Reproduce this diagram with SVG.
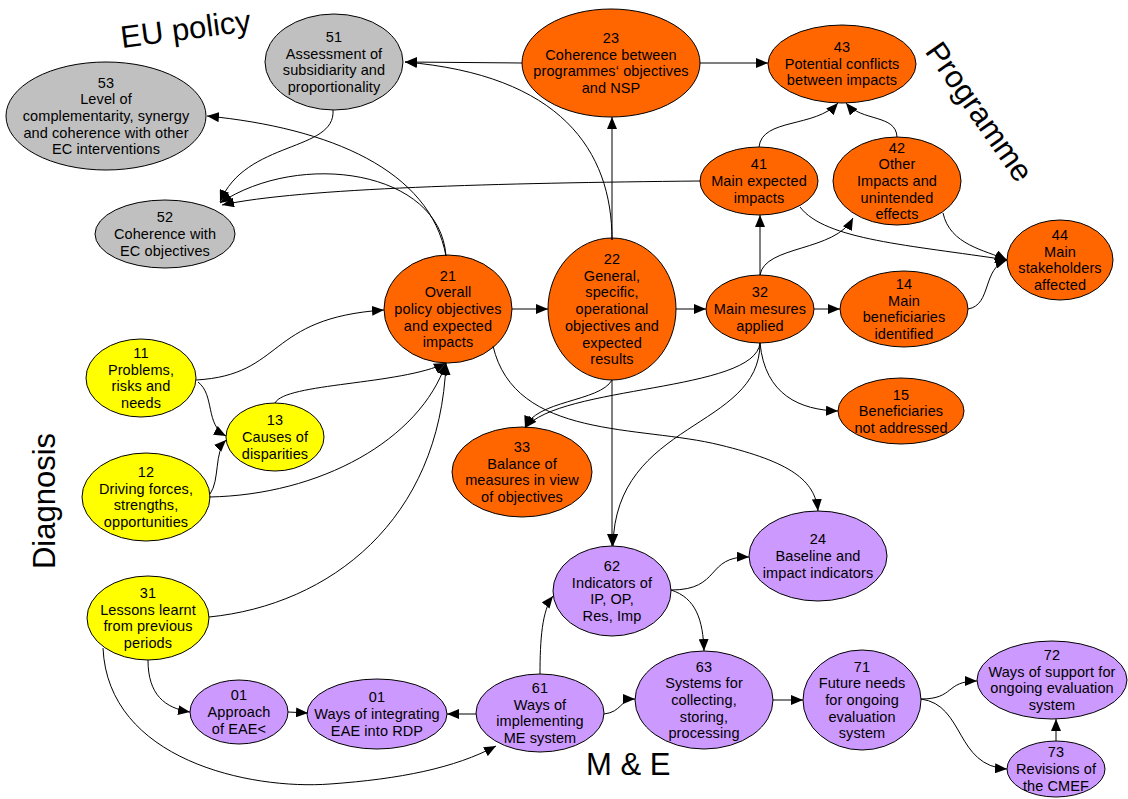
<svg xmlns="http://www.w3.org/2000/svg" width="1128" height="799" viewBox="0 0 1128 799">
<defs>
<marker id="ah" viewBox="0 0 12 10" refX="12" refY="5" markerWidth="12" markerHeight="10" markerUnits="userSpaceOnUse" orient="auto">
<path d="M0,0 L12,5 L0,10 Z" fill="#000"/>
</marker>
</defs>
<style>
.n ellipse{stroke:#000;stroke-width:1}
.g ellipse{fill:#c0c0c0}
.o ellipse{fill:#ff6600}
.y ellipse{fill:#ffff00}
.p ellipse{fill:#cc99ff}
.n text{font-family:"Liberation Sans",Arial,sans-serif;font-size:14.5px;letter-spacing:0.1px;fill:#000;text-anchor:middle}
.c path{fill:none;stroke:#000;stroke-width:1;marker-end:url(#ah)}
.big{font-family:"Liberation Sans",Arial,sans-serif;font-size:31px;fill:#000}
</style>
<rect width="1128" height="799" fill="#fff"/>

<text class="big" transform="translate(122,48) rotate(-7.5)">EU policy</text>
<text class="big" text-anchor="middle" transform="translate(979,112) rotate(55)" y="10">Programme</text>
<text class="big" text-anchor="middle" transform="translate(55,501) rotate(-90)">Diagnosis</text>
<text class="big" x="586" y="775">M &amp; E</text>

<g id="n51" class="n g"><ellipse cx="334" cy="62" rx="69" ry="48"/><text y="42"><tspan x="334">51</tspan><tspan x="334" dy="16.7">Assessment of</tspan><tspan x="334" dy="16.7">subsidiarity and</tspan><tspan x="334" dy="16.7">proportionality</tspan></text></g>
<g id="n53" class="n g"><ellipse cx="106" cy="116" rx="100" ry="54"/><text y="87.6"><tspan x="106">53</tspan><tspan x="106" dy="16.7">Level of</tspan><tspan x="106" dy="16.7">complementarity, synergy</tspan><tspan x="106" dy="16.7">and coherence with other</tspan><tspan x="106" dy="16.7">EC interventions</tspan></text></g>
<g id="n52" class="n g"><ellipse cx="165" cy="234" rx="70" ry="34"/><text y="222.3"><tspan x="165">52</tspan><tspan x="165" dy="16.7">Coherence with</tspan><tspan x="165" dy="16.7">EC objectives</tspan></text></g>

<g id="n23" class="n o"><ellipse cx="611" cy="63" rx="89" ry="54"/><text y="43"><tspan x="611">23</tspan><tspan x="611" dy="16.7">Coherence between</tspan><tspan x="611" dy="16.7">programmes‘ objectives</tspan><tspan x="611" dy="16.7">and NSP</tspan></text></g>
<g id="n43" class="n o"><ellipse cx="842" cy="64" rx="74" ry="39"/><text y="52"><tspan x="842">43</tspan><tspan x="842" dy="16.7">Potential conflicts</tspan><tspan x="842" dy="16.7">between impacts</tspan></text></g>
<g id="n41" class="n o"><ellipse cx="759" cy="181" rx="59" ry="34"/><text y="169.3"><tspan x="759">41</tspan><tspan x="759" dy="16.7">Main expected</tspan><tspan x="759" dy="16.7">impacts</tspan></text></g>
<g id="n42" class="n o"><ellipse cx="897" cy="181" rx="64" ry="44"/><text y="152.6"><tspan x="897">42</tspan><tspan x="897" dy="16.7">Other</tspan><tspan x="897" dy="16.7">Impacts and</tspan><tspan x="897" dy="16.7">unintended</tspan><tspan x="897" dy="16.7">effects</tspan></text></g>
<g id="n44" class="n o"><ellipse cx="1060" cy="260" rx="53" ry="40"/><text y="240"><tspan x="1060">44</tspan><tspan x="1060" dy="16.7">Main</tspan><tspan x="1060" dy="16.7">stakeholders</tspan><tspan x="1060" dy="16.7">affected</tspan></text></g>
<g id="n21" class="n o"><ellipse cx="448" cy="309" rx="64" ry="54"/><text y="280.6"><tspan x="448">21</tspan><tspan x="448" dy="16.7">Overall</tspan><tspan x="448" dy="16.7">policy objectives</tspan><tspan x="448" dy="16.7">and expected</tspan><tspan x="448" dy="16.7">impacts</tspan></text></g>
<g id="n22" class="n o"><ellipse cx="612" cy="309" rx="64" ry="71"/><text y="264"><tspan x="612">22</tspan><tspan x="612" dy="16.7">General,</tspan><tspan x="612" dy="16.7">specific,</tspan><tspan x="612" dy="16.7">operational</tspan><tspan x="612" dy="16.7">objectives and</tspan><tspan x="612" dy="16.7">expected</tspan><tspan x="612" dy="16.7">results</tspan></text></g>
<g id="n32" class="n o"><ellipse cx="760" cy="309" rx="54" ry="34"/><text y="297.3"><tspan x="760">32</tspan><tspan x="760" dy="16.7">Main mesures</tspan><tspan x="760" dy="16.7">applied</tspan></text></g>
<g id="n14" class="n o"><ellipse cx="904" cy="309" rx="64" ry="38"/><text y="289"><tspan x="904">14</tspan><tspan x="904" dy="16.7">Main</tspan><tspan x="904" dy="16.7">beneficiaries</tspan><tspan x="904" dy="16.7">identified</tspan></text></g>
<g id="n15" class="n o"><ellipse cx="901" cy="411" rx="63" ry="33"/><text y="399.5"><tspan x="901">15</tspan><tspan x="901" dy="16.7">Beneficiaries</tspan><tspan x="901" dy="16.7">not addressed</tspan></text></g>
<g id="n33" class="n o"><ellipse cx="522" cy="472" rx="70" ry="45"/><text y="452"><tspan x="522">33</tspan><tspan x="522" dy="16.7">Balance of</tspan><tspan x="522" dy="16.7">measures in view</tspan><tspan x="522" dy="16.7">of objectives</tspan></text></g>

<g id="n11" class="n y"><ellipse cx="141" cy="378" rx="55" ry="39"/><text y="358"><tspan x="141">11</tspan><tspan x="141" dy="16.7">Problems,</tspan><tspan x="141" dy="16.7">risks and</tspan><tspan x="141" dy="16.7">needs</tspan></text></g>
<g id="n12" class="n y"><ellipse cx="146" cy="497" rx="64" ry="44"/><text y="477"><tspan x="146">12</tspan><tspan x="146" dy="16.7">Driving forces,</tspan><tspan x="146" dy="16.7">strengths,</tspan><tspan x="146" dy="16.7">opportunities</tspan></text></g>
<g id="n13" class="n y"><ellipse cx="275" cy="437" rx="49" ry="34"/><text y="425.3"><tspan x="275">13</tspan><tspan x="275" dy="16.7">Causes of</tspan><tspan x="275" dy="16.7">disparities</tspan></text></g>
<g id="n31" class="n y"><ellipse cx="148" cy="618" rx="61" ry="42"/><text y="598"><tspan x="148">31</tspan><tspan x="148" dy="16.7">Lessons learnt</tspan><tspan x="148" dy="16.7">from previous</tspan><tspan x="148" dy="16.7">periods</tspan></text></g>

<g id="n01a" class="n p"><ellipse cx="239" cy="712" rx="49" ry="32"/><text y="700.3"><tspan x="239">01</tspan><tspan x="239" dy="16.7">Approach</tspan><tspan x="239" dy="16.7">of EAE&lt;</tspan></text></g>
<g id="n01b" class="n p"><ellipse cx="377" cy="714" rx="70" ry="35"/><text y="702.3"><tspan x="377">01</tspan><tspan x="377" dy="16.7">Ways of integrating</tspan><tspan x="377" dy="16.7">EAE into RDP</tspan></text></g>
<g id="n61" class="n p"><ellipse cx="540" cy="713" rx="64" ry="39"/><text y="693"><tspan x="540">61</tspan><tspan x="540" dy="16.7">Ways of</tspan><tspan x="540" dy="16.7">implementing</tspan><tspan x="540" dy="16.7">ME system</tspan></text></g>
<g id="n62" class="n p"><ellipse cx="612" cy="591" rx="59" ry="45"/><text y="571"><tspan x="612">62</tspan><tspan x="612" dy="16.7">Indicators of</tspan><tspan x="612" dy="16.7">IP, OP,</tspan><tspan x="612" dy="16.7">Res, Imp</tspan></text></g>
<g id="n63" class="n p"><ellipse cx="704" cy="700" rx="69" ry="49"/><text y="671.6"><tspan x="704">63</tspan><tspan x="704" dy="16.7">Systems for</tspan><tspan x="704" dy="16.7">collecting,</tspan><tspan x="704" dy="16.7">storing,</tspan><tspan x="704" dy="16.7">processing</tspan></text></g>
<g id="n24" class="n p"><ellipse cx="818" cy="556" rx="69" ry="45"/><text y="544.3"><tspan x="818">24</tspan><tspan x="818" dy="16.7">Baseline and</tspan><tspan x="818" dy="16.7">impact indicators</tspan></text></g>
<g id="n71" class="n p"><ellipse cx="862" cy="700" rx="59" ry="50"/><text y="671.6"><tspan x="862">71</tspan><tspan x="862" dy="16.7">Future needs</tspan><tspan x="862" dy="16.7">for ongoing</tspan><tspan x="862" dy="16.7">evaluation</tspan><tspan x="862" dy="16.7">system</tspan></text></g>
<g id="n72" class="n p"><ellipse cx="1052" cy="680" rx="75" ry="39"/><text y="660"><tspan x="1052">72</tspan><tspan x="1052" dy="16.7">Ways of support for</tspan><tspan x="1052" dy="16.7">ongoing evaluation</tspan><tspan x="1052" dy="16.7">system</tspan></text></g>
<g id="n73" class="n p"><ellipse cx="1056" cy="769" rx="49" ry="28"/><text y="757.3"><tspan x="1056">73</tspan><tspan x="1056" dy="16.7">Revisions of</tspan><tspan x="1056" dy="16.7">the CMEF</tspan></text></g>

<g id="connectors" class="c">
<path d="M522,63 L405,62"/>
<path d="M612,240 C612,150 560,75 405,62"/>
<path d="M612,240 L612,117"/>
<path d="M700,63 L768,63"/>
<path d="M759,147 C762,118 815,128 838,103"/>
<path d="M897,137 C896,114 862,122 846,103"/>
<path d="M700,181 C500,183 300,188 222,205"/>
<path d="M333,110 C336,152 245,140 220,202"/>
<path d="M446,256 C440,170 300,150 220,203"/>
<path d="M446,256 C430,170 330,128 207,116"/>
<path d="M800,207 C825,240 910,245 1007,260"/>
<path d="M943,213 C950,245 985,250 1007,260"/>
<path d="M968,309 C992,305 982,268 1007,260"/>
<path d="M760,275 L760,215"/>
<path d="M760,275 C765,245 835,252 853,218"/>
<path d="M814,309 L840,309"/>
<path d="M676,309 L706,309"/>
<path d="M512,309 L548,309"/>
<path d="M760,343 C765,395 800,410 838,411"/>
<path d="M760,343 C755,392 560,385 525,428"/>
<path d="M612,380 C600,402 535,400 525,428"/>
<path d="M612,380 L612,546"/>
<path d="M760,343 C760,430 615,420 613,546"/>
<path d="M493,346 C515,440 640,425 720,445 C790,462 815,480 818,511"/>
<path d="M196,380 C285,375 265,318 384,310"/>
<path d="M198,382 C215,395 205,425 226,436"/>
<path d="M210,494 C220,480 214,452 226,440"/>
<path d="M275,403 C285,383 400,385 446,363"/>
<path d="M209,497 C320,495 420,440 446,363"/>
<path d="M209,617 C330,605 440,520 446,363"/>
<path d="M148,660 C148,695 165,708 190,712"/>
<path d="M103,648 C108,760 250,790 330,784 C400,779 455,768 496,746"/>
<path d="M288,712 L308,713"/>
<path d="M476,714 L447,714"/>
<path d="M540,674 C540,640 542,610 553,596"/>
<path d="M604,714 C622,712 620,699 635,699"/>
<path d="M671,590 C722,590 705,556 749,557"/>
<path d="M671,590 C696,598 703,620 704,651"/>
<path d="M773,700 L803,700"/>
<path d="M921,699 C955,699 945,681 977,681"/>
<path d="M921,699 C965,705 955,766 1007,769"/>
<path d="M1056,741 L1056,719"/>
</g>
</svg>
